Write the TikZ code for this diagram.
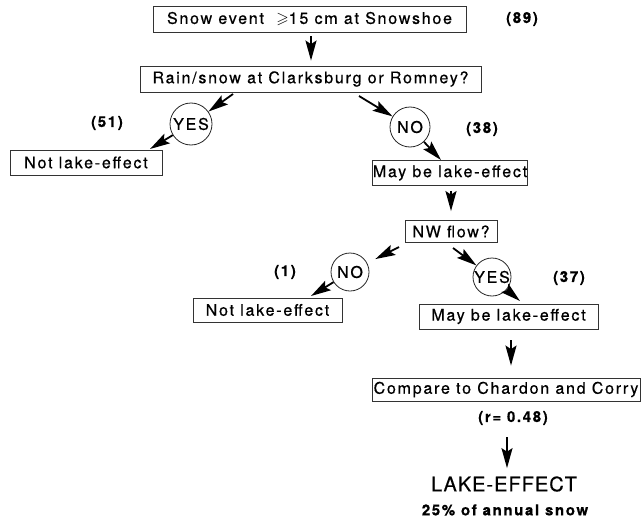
\documentclass[tikz,border=0pt]{standalone}
\usepackage{fontspec}
\usepackage{amssymb}
\setmainfont{TeX Gyre Heros}[LetterSpace=11,FakeBold=0.6]
\newfontfamily\bigfont{TeX Gyre Heros}[LetterSpace=5,FakeBold=0.4]
\usetikzlibrary{arrows.meta,calc}
\begin{document}
\begin{tikzpicture}[x=1pt,y=-1pt,
  every node/.style={font=\fontsize{16}{18}\selectfont, inner sep=0pt, text=black},
  box/.style={draw=black!80, line width=0.8pt, minimum width=#1, minimum height=25pt},
  circ/.style={draw=black!85, line width=0.8pt, circle, minimum size=#1},
  lbl/.style={font=\fontsize{15}{17}\selectfont\bfseries},
  arr/.style={line width=1.8pt, black, -{Stealth[length=20pt,width=11pt,inset=3.5pt]}}]
\useasboundingbox (0,0) rectangle (642,519);
% boxes
\node[box=313pt, minimum height=26pt] (b1) at (309.5,19) {Snow event \ $\geqslant$15 cm at Snowshoe};
\node[box=341pt, minimum height=26pt] (b2) at (310.5,79) {Rain/snow at Clarksburg or Romney?};
\node[box=152pt] (n1) at (86,162.5) {Not lake-effect};
\node[box=154pt] (m1) at (450,173) {May be lake-effect};
\node[box=92pt, minimum height=22pt] (nw) at (451,231.5) {NW flow?};
\node[box=149pt, minimum height=24pt] (n2) at (267.5,310) {Not lake-effect};
\node[box=179pt] (m2) at (508.5,316.5) {May be lake-effect};
\node[box=268pt, minimum height=23pt] (cmp) at (506,389.5) {Compare to Chardon and Corry};
% circles
\node[circ=42pt] (yes1) at (191,124) {YES};
\node[circ=40pt] (no1) at (410,127) {NO};
\node[circ=38pt] (no2) at (350,272) {NO};
\node[circ=38pt] (yes2) at (492,277) {YES};
% labels
\node[lbl] (c89) at (522,19) {(89)};
\node[lbl] (c51) at (107,123) {(51)};
\node[lbl] (c38) at (482,129) {(38)};
\node[lbl] (c1) at (285,272) {(1)};
\node[lbl] (c37) at (569,278) {(37)};
\node[lbl] (rlab) at (513,418) {(r= 0.48)};
\node[font=\fontsize{20}{23}\bigfont] (lake) at (504,484) {LAKE-EFFECT};
\node[lbl] (ann) at (505,510) {25\% of annual snow};
% arrow end points
\coordinate (t2) at (233,94);
\coordinate (h3) at (150,149);
\coordinate (t4) at (359,96);
\coordinate (h5) at (441,160);
\coordinate (t7) at (399,247);
\coordinate (t8) at (453,248);
\coordinate (h9) at (311,296);
\coordinate (h10) at (520,301);
% arrows
\draw[arr, shorten <=4pt, shorten >=5pt] (b1.south -| 311,0) -- (b2.north -| 311,0);
\draw[arr] (t2) -- (yes1);
\draw[arr] (yes1) -- (h3);
\draw[arr] (t4) -- (no1);
\draw[arr] (no1) -- (h5);
\draw[arr, shorten <=5pt, shorten >=9pt] (m1.south -| nw.north) -- (nw.north);
\draw[arr, shorten >=9pt] (t7) -- (no2);
\draw[arr] (t8) -- (yes2);
\draw[arr] (no2) -- (h9);
\draw[arr] (yes2) -- (h10);
\draw[arr, shorten <=11pt, shorten >=12pt] (m2.south -| 511,0) -- (cmp.north -| 511,0);
\draw[arr, shorten <=12pt, shorten >=8pt] (rlab.south -| 507,0) -- (lake.north -| 507,0);
\end{tikzpicture}
\end{document}
